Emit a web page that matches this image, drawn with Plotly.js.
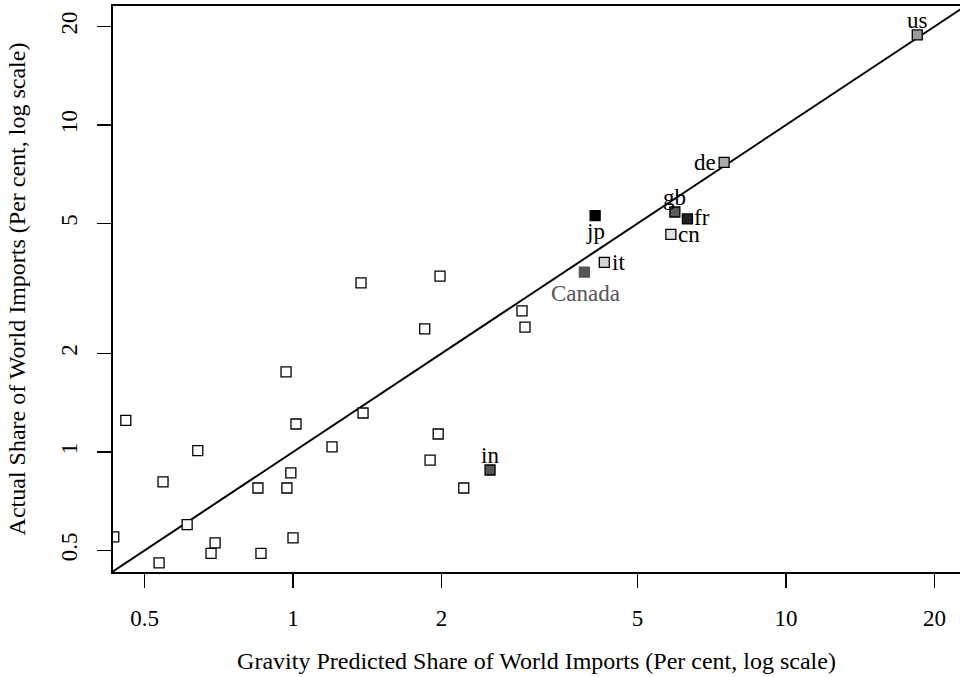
<!DOCTYPE html>
<html>
<head>
<meta charset="utf-8">
<script src="https://cdn.plot.ly/plotly-3.0.1.min.js"></script>
<style>html,body{margin:0;padding:0;background:#fff}#chart{width:960px;height:677px}</style>
</head>
<body>
<div id="chart"></div>
<script>
// Unlabelled countries: gravity-predicted vs actual share (%)
const otherPredicted = [0.433, 0.458, 0.535, 0.545, 0.61, 0.641, 0.682, 0.695, 0.849, 0.861,
  0.968, 0.972, 0.99, 1.0, 1.014, 1.2, 1.374, 1.387, 1.85, 1.897, 1.97, 1.987, 2.22, 2.914, 2.955];
const otherActual = [0.55, 1.25, 0.458, 0.81, 0.60, 1.01, 0.49, 0.527, 0.776, 0.49,
  1.757, 0.776, 0.863, 0.546, 1.218, 1.036, 3.29, 1.316, 2.38, 0.945, 1.135, 3.45, 0.776, 2.70, 2.41];

// Labelled countries
const labNames = ["us", "de", "gb", "fr", "cn", "jp", "it", "Canada", "in"];
const labPredicted = [18.46, 7.49, 5.95, 6.31, 5.84, 4.10, 4.28, 3.90, 2.51];
const labActual = [18.85, 7.69, 5.42, 5.16, 4.63, 5.28, 3.80, 3.55, 0.881];

// 45-degree reference line endpoints
const refLine = [0.3, 30];

// marker fill and label placement (pixel offsets from the point)
const styles = {
  us: {fill: "#9a9a9a", dx: 0, dy: 14, line: "#000", text: "#000"},
  de: {fill: "#ababab", dx: -19, dy: 0, line: "#000", text: "#000"},
  gb: {fill: "#5a5a5a", dx: 0, dy: 14, line: "#000", text: "#000"},
  fr: {fill: "#222222", dx: 15, dy: 1, line: "#000", text: "#000"},
  cn: {fill: "#e2e2e2", dx: 18, dy: 0, line: "#000", text: "#000"},
  jp: {fill: "#000000", dx: 0, dy: -16, line: "#000", text: "#000"},
  it: {fill: "#d4d4d4", dx: 14, dy: 0, line: "#000", text: "#000"},
  Canada: {fill: "#555555", dx: 1, dy: -21, line: "#555", text: "#555"},
  in: {fill: "#555555", dx: 0, dy: 14, line: "#000", text: "#000"}
};

const font = "Liberation Serif, Times New Roman, serif";

const traces = [
  {x: refLine, y: refLine, mode: "lines", line: {color: "#000", width: 2}, hoverinfo: "skip"},
  {x: otherPredicted, y: otherActual, mode: "markers",
   marker: {symbol: "square", size: 10, color: "#fff", line: {color: "#000", width: 1.3}}},
  {x: labPredicted, y: labActual, mode: "markers",
   marker: {symbol: "square", size: 10, color: labNames.map(n => styles[n].fill),
            line: {color: labNames.map(n => styles[n].line), width: 1.3}}}
];

const annotations = labNames.map((n, i) => ({
  x: Math.log10(labPredicted[i]), y: Math.log10(labActual[i]), xref: "x", yref: "y",
  text: n, showarrow: false, xanchor: "center", yanchor: "middle",
  xshift: styles[n].dx, yshift: styles[n].dy,
  font: {family: font, size: 23, color: styles[n].text}
}));

const layout = {
  width: 960, height: 677,
  margin: {l: 113, r: 0, t: 6, b: 105},
  paper_bgcolor: "#fff", plot_bgcolor: "#fff",
  showlegend: false,
  font: {family: font, size: 24, color: "#000"},
  annotations: annotations,
  xaxis: {
    type: "log", range: [-0.3651, 1.3529],
    tickvals: [0.5, 1, 2, 5, 10, 20], ticktext: ["0.5", "1", "2", "5", "10", "20"],
    ticks: "outside", ticklen: 14, tickwidth: 1.2, tickcolor: "#000",
    ticklabelstandoff: 10,
    tickfont: {family: font, size: 23},
    showgrid: false, zeroline: false, showline: true, linecolor: "#000", linewidth: 2, mirror: true,
    title: {text: "Gravity Predicted Share of World Imports (Per cent, log scale)", font: {family: font, size: 24}, standoff: 23}
  },
  yaxis: {
    type: "log", range: [-0.367, 1.3639],
    tickvals: [0.5, 1, 2, 5, 10, 20], ticktext: ["0.5", "1", "2", "5", "10", "20"],
    tickangle: -90,
    ticks: "outside", ticklen: 14, tickwidth: 1.2, tickcolor: "#000",
    ticklabelstandoff: 11,
    tickfont: {family: font, size: 23},
    showgrid: false, zeroline: false, showline: true, linecolor: "#000", linewidth: 2, mirror: false,
    title: {text: "Actual Share of World Imports (Per cent, log scale)", font: {family: font, size: 24}, standoff: 24}
  }
};

Plotly.newPlot("chart", traces, layout, {displayModeBar: false, staticPlot: true});
</script>
</body>
</html>
